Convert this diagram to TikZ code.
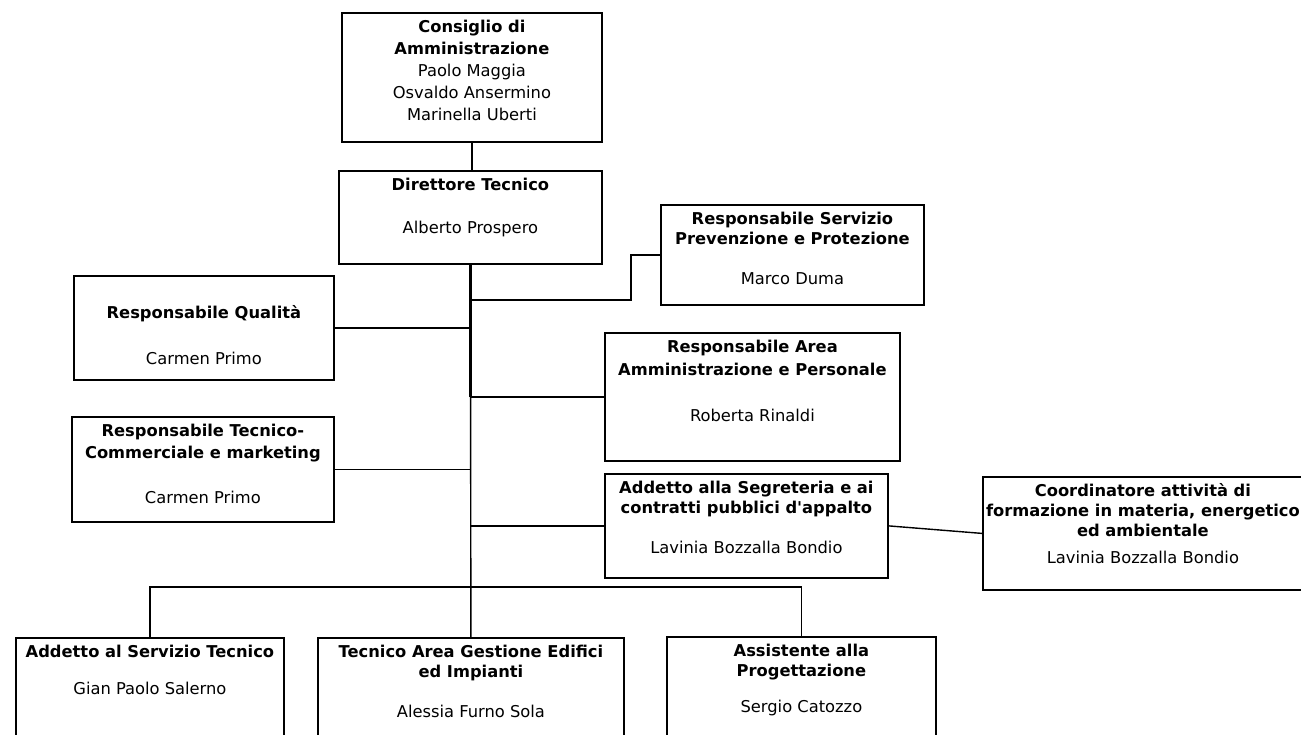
\documentclass[tikz,border=0pt]{standalone}
\usepackage{fontspec}
\setmainfont{DejaVu Sans}
\usepackage{tikz}
\tikzset{
    unit/.style = {draw, line width=1.8pt, rectangle, inner sep=0pt, anchor=north west, font=\fontsize{16.3pt}{20pt}\selectfont},
    link/.style = {line width=1.4pt},
    spine/.style = {line width=3pt},
}
\newcommand{\unitbox}[3]{\begin{minipage}[t][#2][t]{#1}\centering\vspace*{6pt}\strut#3\end{minipage}}

\begin{document}
\begin{tikzpicture}[x=1pt, y=-1pt]
\useasboundingbox (0,0) rectangle (1301,735);
\clip (0,0) rectangle (1301,735);
\fill[white] (0,0) rectangle (1301,735);

\node[unit] (cda) at (341,12) {\unitbox{260pt}{129pt}{\textbf{Consiglio di}\\[2pt]\textbf{Amministrazione}\\[2pt]Paolo Maggia\\[2pt]Osvaldo Ansermino\\[2pt]Marinella Uberti}};
\node[unit] (dt) at (338,170) {\unitbox{263pt}{93pt}{\textbf{Direttore Tecnico}\\[23pt]Alberto Prospero}};
\node[unit] (rspp) at (660,204) {\unitbox{263pt}{100pt}{\textbf{Responsabile Servizio}\\\textbf{Prevenzione e Protezione}\\[20pt]Marco Duma}};
\node[unit] (rq) at (73,275) {\unitbox{260pt}{104pt}{\\[3pt]\textbf{Responsabile Qualità}\\[26pt]Carmen Primo}};
\node[unit] (ram) at (604,332) {\unitbox{295pt}{128pt}{\textbf{Responsabile Area}\\[3pt]\textbf{Amministrazione e Personale}\\[26pt]Roberta Rinaldi}};
\node[unit] (rtc) at (71,416) {\unitbox{262pt}{105pt}{\textbf{Responsabile Tecnico-}\\[2pt]\textbf{Commerciale e marketing}\\[25pt]Carmen Primo}};
\node[unit] (seg) at (604,473) {\unitbox{283pt}{104pt}{\textbf{Addetto alla Segreteria e ai}\\\textbf{contratti pubblici d\textquotesingle appalto}\\[20pt]Lavinia Bozzalla Bondio}};
\node[unit] (coord) at (982,476) {\unitbox{320pt}{113pt}{\textbf{Coordinatore attività di}\\\makebox[\linewidth]{\textbf{formazione in materia, energetico}}\\\textbf{ed ambientale}\\[7pt]Lavinia Bozzalla Bondio}};
\node[unit] (ast) at (15,637) {\unitbox{268pt}{120pt}{\textbf{Addetto al Servizio Tecnico}\\[17pt]Gian Paolo Salerno}};
\node[unit] (tag) at (317,637) {\unitbox{306pt}{120pt}{\textbf{Tecnico Area Gestione Edifici}\\\textbf{ed Impianti}\\[20pt]Alessia Furno Sola}};
\node[unit] (apr) at (666,636) {\unitbox{269pt}{120pt}{\textbf{Assistente alla}\\\textbf{Progettazione}\\[16pt]Sergio Catozzo}};

% trunk
\draw[link] (cda.south) -- (cda.south |- dt.north);
\draw[spine] (dt.south) -- (dt.south |- ram.west);
\draw[link] (dt.south) -- (tag.north);
% side branches
\coordinate (bend) at (631,300);
\draw[link] (bend -| dt.south) -- (bend) |- (rspp.west);
\draw[link] (rq.east) -- (rq.east -| dt.south);
\draw[link] (rtc.east) -- (rtc.east -| dt.south);
\draw[link] (ram.west) -- (ram.west -| dt.south);
\draw[link] (seg.west) -- (seg.west -| dt.south);
\draw[link] (seg.east) -- (coord.west);
% bottom row
\draw[link] (ast.north) -- ++(0,-50) -| (apr.north);
\end{tikzpicture}
\end{document}
